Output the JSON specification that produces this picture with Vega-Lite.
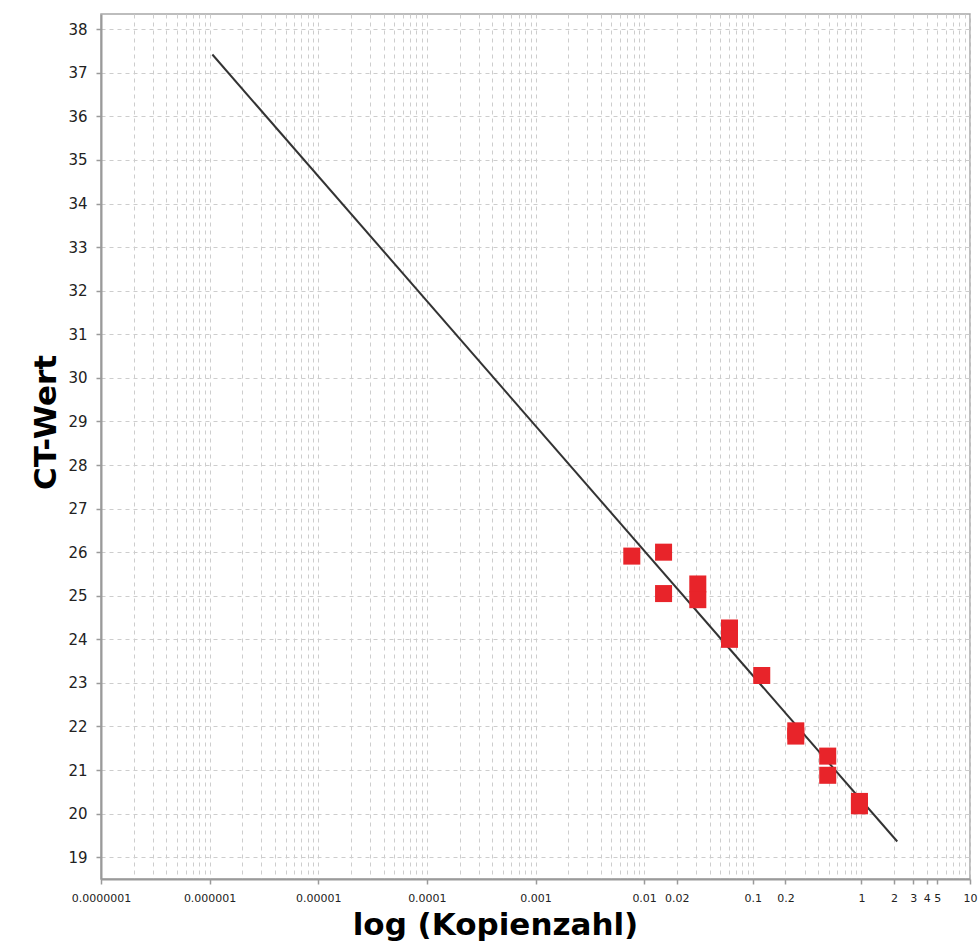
{
  "$schema": "https://vega.github.io/schema/vega-lite/v6.json",
  "width": 869,
  "height": 865,
  "autosize": "none",
  "padding": {"left": 101, "top": 14, "right": 9, "bottom": 66},
  "background": "white",
  "config": {
    "view": {"stroke": "#a8a8a8", "strokeWidth": 1.5},
    "axis": {
      "labelFont": "DejaVu Sans",
      "titleFont": "DejaVu Sans",
      "domainColor": "#9a9a9a",
      "domainWidth": 2,
      "tickColor": "#9a9a9a",
      "tickWidth": 1.5,
      "gridColor": "#cdcdcd",
      "gridWidth": 1,
      "gridDash": [4, 4],
      "labelColor": "#222222",
      "titleColor": "#000000"
    }
  },
  "datasets": {
    "fit": [
      {"kopien": 0.00000106, "ct": 37.42},
      {"kopien": 2.14, "ct": 19.36}
    ],
    "proben": [
      {"kopien": 0.0077, "ct": 25.91},
      {"kopien": 0.0151, "ct": 26.0},
      {"kopien": 0.0151, "ct": 25.05},
      {"kopien": 0.0312, "ct": 25.27},
      {"kopien": 0.0312, "ct": 24.91},
      {"kopien": 0.0611, "ct": 24.26},
      {"kopien": 0.0611, "ct": 24.0},
      {"kopien": 0.121, "ct": 23.17},
      {"kopien": 0.249, "ct": 21.9},
      {"kopien": 0.249, "ct": 21.78},
      {"kopien": 0.49, "ct": 21.32},
      {"kopien": 0.49, "ct": 20.88},
      {"kopien": 0.96, "ct": 20.28},
      {"kopien": 0.96, "ct": 20.18}
    ]
  },
  "resolve": {"axis": {"x": "independent"}},
  "layer": [
    {
      "data": {"name": "fit"},
      "mark": {"type": "line", "color": "#333333", "strokeWidth": 2, "clip": true},
      "encoding": {
        "x": {
          "field": "kopien",
          "type": "quantitative",
          "scale": {"type": "log", "domain": [0.0000001, 10], "nice": false},
          "axis": {
            "orient": "bottom",
            "zindex": 0,
            "grid": true,
            "labels": false,
            "ticks": false,
            "domain": false,
            "title": null,
            "values": [
              1e-7, 2e-7, 3e-7, 4e-7, 5e-7, 6e-7, 7e-7, 8e-7, 9e-7,
              1e-6, 2e-6, 3e-6, 4e-6, 5e-6, 6e-6, 7e-6, 8e-6, 9e-6,
              1e-5, 2e-5, 3e-5, 4e-5, 5e-5, 6e-5, 7e-5, 8e-5, 9e-5,
              1e-4, 2e-4, 3e-4, 4e-4, 5e-4, 6e-4, 7e-4, 8e-4, 9e-4,
              1e-3, 2e-3, 3e-3, 4e-3, 5e-3, 6e-3, 7e-3, 8e-3, 9e-3,
              0.01, 0.02, 0.03, 0.04, 0.05, 0.06, 0.07, 0.08, 0.09,
              0.1, 0.2, 0.3, 0.4, 0.5, 0.6, 0.7, 0.8, 0.9,
              1, 2, 3, 4, 5, 6, 7, 8, 9, 10
            ]
          }
        },
        "y": {
          "field": "ct",
          "type": "quantitative",
          "scale": {"domain": [18.5, 38.35], "nice": false, "zero": false},
          "axis": {
            "values": [19, 20, 21, 22, 23, 24, 25, 26, 27, 28, 29, 30, 31, 32, 33, 34, 35, 36, 37, 38],
            "grid": true,
            "tickSize": 5,
            "labelFontSize": 15,
            "labelPadding": 9,
            "title": "CT-Wert",
            "titleFontSize": 31,
            "titleFontWeight": "bold",
            "titleAngle": -90,
            "titleAlign": "center",
            "titleBaseline": "middle",
            "titleX": -55,
            "titleY": 408
          }
        }
      }
    },
    {
      "data": {"name": "proben"},
      "mark": {"type": "square", "size": 290, "color": "#e8242a", "opacity": 1, "filled": true},
      "encoding": {
        "x": {
          "field": "kopien",
          "type": "quantitative",
          "scale": {"type": "log", "domain": [0.0000001, 10], "nice": false},
          "axis": {
            "orient": "bottom",
            "zindex": 1,
            "grid": false,
            "values": [1e-7, 1e-6, 1e-5, 1e-4, 1e-3, 0.01, 0.02, 0.1, 0.2, 1, 2, 3, 4, 5, 10],
            "labelExpr": "datum.value >= 1 ? format(datum.value, 'd') : format(datum.value, '.7~f')",
            "labelFontSize": 11,
            "labelPadding": 8,
            "labelFlush": false,
            "labelOverlap": false,
            "tickSize": 5,
            "title": "log (Kopienzahl)",
            "titleFontSize": 31,
            "titleFontWeight": "bold",
            "titleAlign": "center",
            "titleBaseline": "middle",
            "titleX": 394,
            "titleY": 46
          }
        },
        "y": {"field": "ct", "type": "quantitative"}
      }
    }
  ]
}
